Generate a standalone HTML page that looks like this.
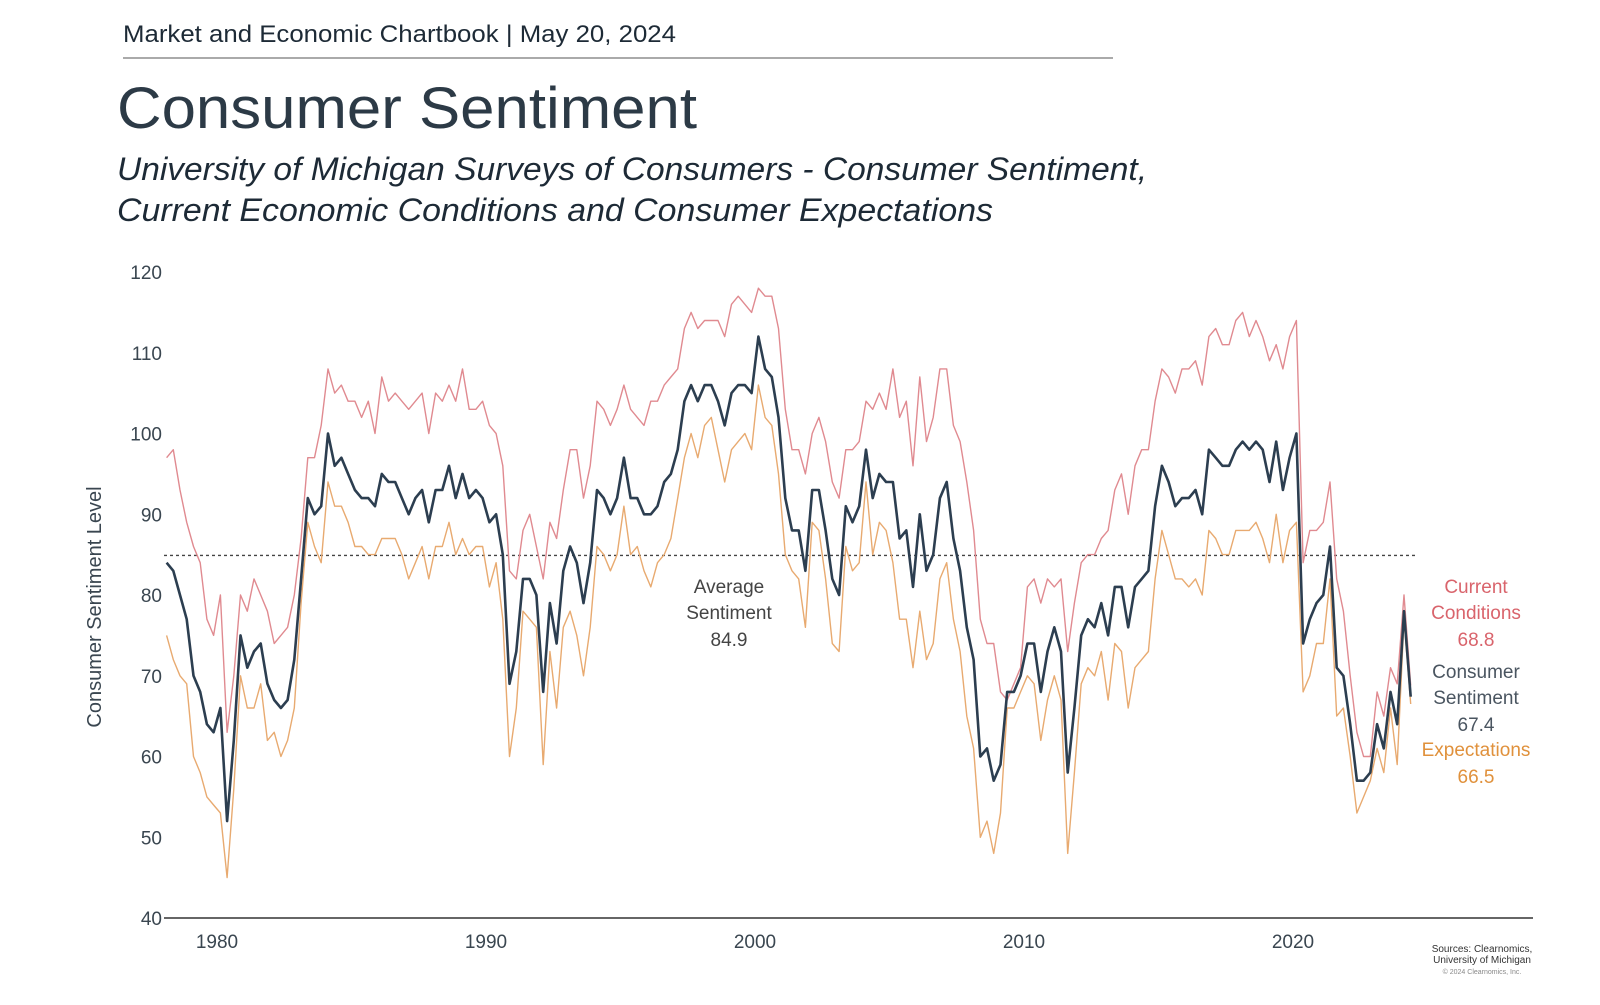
<!DOCTYPE html>
<html><head><meta charset="utf-8"><style>
body{margin:0;width:1600px;height:1000px;background:#fff;overflow:hidden;font-family:"Liberation Sans",sans-serif}
</style></head><body>
<svg width="1600" height="1000" viewBox="0 0 1600 1000">
<text x="123" y="42" font-size="24" fill="#1d2a36" textLength="553" lengthAdjust="spacingAndGlyphs">Market and Economic Chartbook | May 20, 2024</text>
<line x1="123" y1="58" x2="1113" y2="58" stroke="#555" stroke-width="1"/>
<text x="117" y="128" font-size="58" fill="#2c3a46" textLength="580" lengthAdjust="spacingAndGlyphs">Consumer Sentiment</text>
<text x="117" y="180" font-size="32" font-style="italic" fill="#1d2a36" textLength="1030" lengthAdjust="spacingAndGlyphs">University of Michigan Surveys of Consumers - Consumer Sentiment,</text>
<text x="117" y="221" font-size="32" font-style="italic" fill="#1d2a36" textLength="876" lengthAdjust="spacingAndGlyphs">Current Economic Conditions and Consumer Expectations</text>
<text transform="translate(101,607) rotate(-90)" text-anchor="middle" font-size="20" fill="#3a4650">Consumer Sentiment Level</text>
<g id="yt"></g>
<g id="xt"></g>
<g id="series"></g>
<text x="1482" y="952" font-size="10" text-anchor="middle" fill="#333">Sources: Clearnomics,</text>
<text x="1482" y="963" font-size="10" text-anchor="middle" fill="#333">University of Michigan</text>
<text x="1482" y="974" font-size="7" text-anchor="middle" fill="#888">© 2024 Clearnomics, Inc.</text>
</svg>
<script>
const startYear=1978;
const yTicks=[40,50,60,70,80,90,100,110,120];
const xTicks=[1980,1990,2000,2010,2020];
const avgValue=84.9;
const sentiment=[84,83,80,77,70,68,64,63,66,52,62,75,71,73,74,69,67,66,67,72,82,92,90,91,100,96,97,95,93,92,92,91,95,94,94,92,90,92,93,89,93,93,96,92,95,92,93,92,89,90,85,69,73,82,82,80,68,79,74,83,86,84,79,84,93,92,90,92,97,92,92,90,90,91,94,95,98,104,106,104,106,106,104,101,105,106,106,105,112,108,107,102,92,88,88,83,93,93,88,82,80,91,89,91,98,92,95,94,94,87,88,81,90,83,85,92,94,87,83,76,72,60,61,57,59,68,68,70,74,74,68,73,76,73,58,66,75,77,76,79,75,81,81,76,81,82,83,91,96,94,91,92,92,93,90,98,97,96,96,98,99,98,99,98,94,99,93,97,100,74,77,79,80,86,71,70,64,57,57,58,64,61,68,64,78,67.4];
const current=[97,98,93,89,86,84,77,75,80,63,70,80,78,82,80,78,74,75,76,80,87,97,97,101,108,105,106,104,104,102,104,100,107,104,105,104,103,104,105,100,105,104,106,104,108,103,103,104,101,100,96,83,82,88,90,86,82,89,87,93,98,98,92,96,104,103,101,103,106,103,102,101,104,104,106,107,108,113,115,113,114,114,114,112,116,117,116,115,118,117,117,113,103,98,98,95,100,102,99,94,92,98,98,99,104,103,105,103,108,102,104,96,107,99,102,108,108,101,99,94,88,77,74,74,68,67,69,71,81,82,79,82,81,82,73,79,84,85,85,87,88,93,95,90,96,98,98,104,108,107,105,108,108,109,106,112,113,111,111,114,115,112,114,112,109,111,108,112,114,84,88,88,89,94,82,78,70,63,60,60,68,65,71,69,80,68.8];
const expectations=[75,72,70,69,60,58,55,54,53,45,56,70,66,66,69,62,63,60,62,66,79,89,86,84,94,91,91,89,86,86,85,85,87,87,87,85,82,84,86,82,86,86,89,85,87,85,86,86,81,84,77,60,66,78,77,76,59,73,66,76,78,75,70,76,86,85,83,85,91,85,86,83,81,84,85,87,92,97,100,97,101,102,98,94,98,99,100,98,106,102,101,95,85,83,82,76,89,88,82,74,73,86,83,84,94,85,89,88,84,77,77,71,78,72,74,82,84,77,73,65,61,50,52,48,53,66,66,68,70,69,62,67,70,67,48,58,69,71,70,73,67,74,73,66,71,72,73,82,88,85,82,82,81,82,80,88,87,85,85,88,88,88,89,87,84,90,84,88,89,68,70,74,74,82,65,66,60,53,55,57,61,58,66,59,77,66.5];
const NS="http://www.w3.org/2000/svg";
function yS(v){return 918-(v-40)*(646/80);}
function xS(yr){return 217+(yr-1980)*26.9;}
function tOf(i){return startYear+i*0.25+0.125;}
const yt=document.getElementById('yt'),xt=document.getElementById('xt'),sg=document.getElementById('series');
function mk(tag,attrs,parent){const e=document.createElementNS(NS,tag);for(const k in attrs)e.setAttribute(k,attrs[k]);parent.appendChild(e);return e;}
yTicks.forEach(v=>{const t=mk('text',{x:162,y:yS(v)+7,'text-anchor':'end','font-size':19,fill:'#3a4650'},yt);


t.textContent=v;});
xTicks.forEach(v=>{const t=mk('text',{x:xS(v),y:948,'text-anchor':'middle','font-size':19,fill:'#3a4650'},xt);


t.textContent=v;});
const ax=mk('line',{x1:164,y1:yS(40),x2:1533,y2:yS(40),stroke:'#666','stroke-width':2},sg);


const av=mk('line',{x1:164,y1:yS(avgValue),x2:1415,y2:yS(avgValue),stroke:'#444','stroke-width':1.3,'stroke-dasharray':'3,3'},sg);


function line(arr,col,w,name){const d=arr.map((v,i)=>(i?'L':'M')+xS(tOf(i)).toFixed(1)+','+yS(v).toFixed(1)).join('');
const p=mk('path',{d:d,fill:'none',stroke:col,'stroke-width':w,'stroke-linejoin':'round'},sg);

}
line(current,'#e08a90',1.4,'current-conditions-line');
line(expectations,'#e8aa70',1.4,'expectations-line');
line(sentiment,'#2c3e50',2.6,'consumer-sentiment-line');
function lab(x,y,txt,col,name){const t=mk('text',{x:x,y:y,'text-anchor':'middle','font-size':19,fill:col},sg);


t.textContent=txt;}
lab(729,593,'Average','#444','avg-label');lab(729,619,'Sentiment','#444','avg-label');lab(729,646,'84.9','#444','avg-value');
lab(1476,593,'Current','#d9646c','current-label');lab(1476,619,'Conditions','#d9646c','current-label');lab(1476,646,'68.8','#d9646c','current-value');
lab(1476,678,'Consumer','#4a5560','sentiment-label');lab(1476,704,'Sentiment','#4a5560','sentiment-label');lab(1476,731,'67.4','#4a5560','sentiment-value');
lab(1476,756,'Expectations','#e0913c','expectations-label');lab(1476,783,'66.5','#e0913c','expectations-value');
</script>
</body></html>
